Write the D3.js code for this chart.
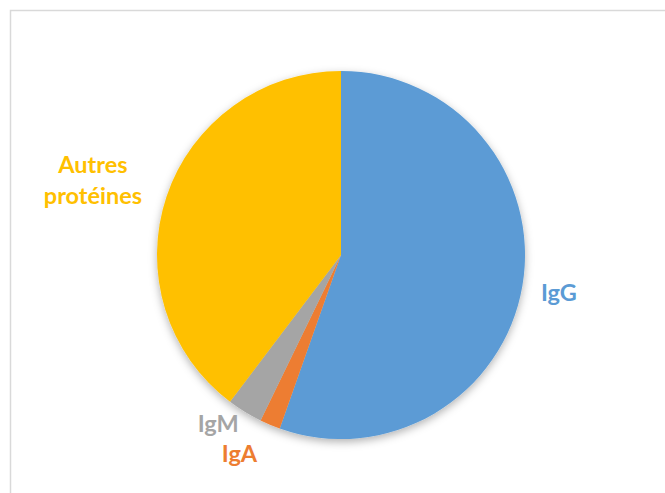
<!DOCTYPE html>
<html>
<head>
<meta charset="utf-8">
<script src="https://cdn.jsdelivr.net/npm/d3@7"></script>
<style>
  body { margin: 0; background: #fff; }
  svg { display: block; }
</style>
</head>
<body>
<div id="chart"></div>
<script>
// data (share of total, %)
const labels = ["IgG", "IgA", "IgM", "Autres protéines"];
const values = [55.4, 1.8, 3.1, 39.7];
const colors = ["#5B9BD5", "#ED7D31", "#A5A5A5", "#FFC000"];

const W = 665, H = 493;
const cx = 341, cy = 255, R = 184;
// label placement: distance from centre and a small angular nudge (degrees)
const labelRadius = [221, 223, 209, 259];
const labelNudge = [0, 4.4, 4.5, -1.8];

const svg = d3.select("#chart").append("svg")
    .attr("width", W)
    .attr("height", H);

// chart frame (only top and left edges are visible)
svg.append("rect")
    .attr("x", 10.5).attr("y", 10.5)
    .attr("width", 800).attr("height", 800)
    .attr("fill", "#fff")
    .attr("stroke", "#d9d9d9")
    .attr("stroke-width", 1.5);

const defs = svg.append("defs");
const f = defs.append("filter").attr("id", "shadow")
    .attr("x", "-20%").attr("y", "-20%").attr("width", "140%").attr("height", "140%");
f.append("feDropShadow")
    .attr("dx", 0).attr("dy", 3)
    .attr("stdDeviation", 4)
    .attr("flood-color", "#000")
    .attr("flood-opacity", 0.3);

const pie = d3.pie().sort(null).value(d => d.v);
const data = pie(labels.map((l, i) => ({ label: l, v: values[i], i: i })));

const arc = d3.arc().innerRadius(0).outerRadius(R);

const g = svg.append("g")
    .attr("transform", "translate(" + cx + "," + cy + ")");

g.append("g")
    .attr("filter", "url(#shadow)")
    .selectAll("path")
    .data(data)
    .enter()
    .append("path")
        .attr("d", arc)
        .attr("fill", d => colors[d.data.i]);

// labels placed along each slice's middle angle
const lab = g.selectAll(".lab")
    .data(data)
    .enter()
    .append("text")
        .attr("class", "lab")
        .attr("transform", d => {
            const a = (d.startAngle + d.endAngle) / 2 + labelNudge[d.data.i] * Math.PI / 180;
            const r = labelRadius[d.data.i];
            return "translate(" + (r * Math.sin(a)) + "," + (-r * Math.cos(a)) + ")";
        })
        .attr("text-anchor", "middle")
        .style("font-family", "Lato, 'Open Sans', sans-serif")
        .style("font-weight", "bold")
        .style("font-size", "23.5px")
        .attr("fill", d => colors[d.data.i]);

lab.each(function(d) {
    const words = d.data.label.split(" ");
    const t = d3.select(this);
    const n = words.length;
    words.forEach((w, k) => {
        t.append("tspan")
            .attr("x", 0)
            .attr("dy", k === 0 ? (0.35 - (n - 1) * 0.65) + "em" : "1.3em")
            .text(w);
    });
});
</script>
</body>
</html>
